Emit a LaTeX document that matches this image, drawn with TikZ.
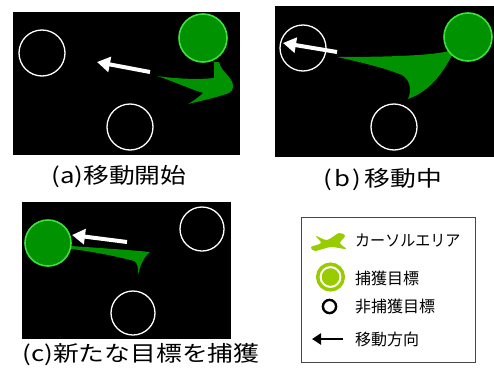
\documentclass[tikz,border=0pt]{standalone}
\usepackage{fontspec}
\setmainfont{Noto Sans CJK JP}
\newfontfamily\capfont[FakeStretch=1.2]{Noto Sans CJK JP}
\usetikzlibrary{arrows.meta}
\definecolor{cgreen}{RGB}{0,146,0}
\definecolor{cedge}{RGB}{60,225,60}
\definecolor{lgreen}{RGB}{153,204,0}
\definecolor{boxgray}{RGB}{70,70,70}
\tikzset{
  panel/.style={fill=black, draw=none},
  target/.style={circle, draw=white, line width=1.3pt, minimum size=46pt, inner sep=0pt},
  captured/.style={circle, draw=cedge, line width=1.6pt, fill=cgreen, minimum size=48pt, inner sep=0pt},
  cursorarea/.style={fill=cgreen},
  movearrow/.style={draw=white, line width=4pt, -{Triangle[length=13pt,width=15pt]}},
  caption/.style={font=\capfont\fontsize{21.5}{21.5}\selectfont, inner sep=0pt},
  legtext/.style={font=\fontsize{16}{16}\selectfont, anchor=west, inner sep=0pt},
}
\begin{document}
\begin{tikzpicture}[x=1pt,y=-1pt]
\useasboundingbox (0,0) rectangle (494,372);
\fill[white] (0,0) rectangle (494,372);

% ---------- panel (a)
\fill[panel] (13,12) rectangle (240,155);
\fill[cursorarea] (157,76) .. controls (185,80) and (205,79) .. (214,78) -- (214,62) -- (219,62)
  .. controls (221,72) and (233,77) .. (233,86) .. controls (233,90) and (231,92) .. (229,93)
  .. controls (215,98) and (200,101) .. (188,104) .. controls (195,100) and (200,96) .. (203,93)
  .. controls (185,87) and (170,80) .. (157,76) -- cycle;
\node[target] (a1) at (42,53) {};
\node[target] (a2) at (130,127) {};
\node[captured] (a3) at (203,38) {};
\coordinate (aT) at (150,72);
\coordinate (aH) at (97,62);
\draw[movearrow] (aT) -- (aH);
\node[caption] (capa) at (119,177) {(a)移動開始};

% ---------- panel (b)
\fill[panel] (275,6) rectangle (494,157);
\fill[cursorarea] (337,57) .. controls (380,57) and (430,56) .. (449,51) -- (452,55)
  .. controls (442,75) and (428,92) .. (408,99) .. controls (412,90) and (410,80) .. (402,75)
  .. controls (385,68) and (360,62) .. (337,57) -- cycle;
\node[target] (b1) at (303,48) {};
\node[target] (b2) at (394,127) {};
\node[captured] (b3) at (468,37) {};
\coordinate (bT) at (337,52);
\coordinate (bH) at (283,43);
\draw[movearrow] (bT) -- (bH);
\node[caption] (capb) at (383,180) {(\kern2pt b\kern2pt)\kern4pt 移動中};

% ---------- panel (c)
\fill[panel] (22,202) rectangle (231,339);
\fill[cursorarea] (71,246) .. controls (100,248) and (130,250) .. (150,252)
  .. controls (143,258) and (140,266) .. (138,275) .. controls (138,268) and (138,263) .. (134,261)
  .. controls (115,256) and (90,251) .. (71,249) -- cycle;
\node[captured, minimum size=46pt] (c1) at (48,243) {};
\node[target, minimum size=44pt] (c2) at (202,229) {};
\node[target, minimum size=44pt] (c3) at (133,313) {};
\coordinate (cT) at (127,242);
\coordinate (cH) at (72,235);
\draw[movearrow] (cT) -- (cH);
\node[caption] (capc) at (141,355) {(c)新たな目標を捕獲};

% ---------- legend
\draw[boxgray, line width=1pt] (301,217) rectangle (475,362);
\fill[lgreen] plot[smooth cycle, tension=0.5] coordinates {(316,236) (327,240) (339,233) (345,236) (340,243) (346,249) (331,247) (315,251) (311,247) (321,243)};
\node[legtext] (l1) at (355,241) {\scalebox{0.94}[1]{カーソルエリア}};
\draw[lgreen, line width=3.5pt] (330.5,277) circle (12.8pt);
\fill[lgreen] (330.5,277) circle (8.8pt);
\node[legtext] (l2) at (355,278) {捕獲目標};
\draw[black, line width=2.4pt] (329.5,306.5) circle (6.6pt);
\node[legtext] (l3) at (355,306) {非捕獲目標};
\coordinate (lT) at (343,339);
\coordinate (lH) at (312,339);
\draw[black, line width=2.6pt, -{Triangle[length=9pt,width=11pt]}] (lT) -- (lH);
\node[legtext] (l4) at (355,339) {移動方向};
\end{tikzpicture}
\end{document}
